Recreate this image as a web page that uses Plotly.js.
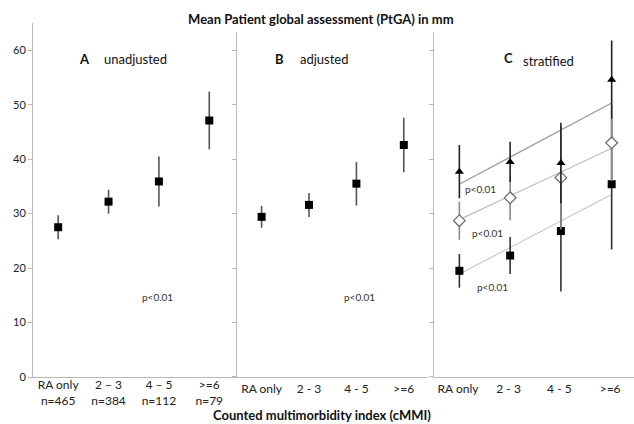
<!DOCTYPE html>
<html><head><meta charset="utf-8">
<script src="https://cdn.plot.ly/plotly-3.0.1.min.js"></script>
<style>html,body{margin:0;padding:0;background:#fff}#chart{width:634px;height:424px}</style>
</head><body><div id="chart"></div>
<script>
// ---- data ----
const catsA = ['RA only<br>n=465', '2 – 3<br>n=384', '4 – 5<br>n=112', '>=6<br>n=79'];
const catsB = ['RA only', '2 - 3', '4 - 5', '>=6'];
const catsC = ['RA only ', '2 - 3 ', '4 - 5 ', '>=6 '];
const yTicks = [0, 10, 20, 30, 40, 50, 60];

const unadjMean = [27.5, 32.2, 35.9, 47.1];
const unadjErr  = [2.2, 2.2, 4.6, 5.3];
const adjMean   = [29.4, 31.6, 35.5, 42.6];
const adjErr    = [2.0, 2.2, 4.0, 5.0];

const triMean = [37.7, 39.5, 39.3, 54.6];
const triErr  = [4.9, 3.7, 7.4, 7.2];
const diaMean = [28.7, 32.9, 36.6, 43.0];
const diaErr  = [3.5, 4.1, 9.5, 7.0];
const sqMean  = [19.5, 22.3, 26.8, 35.4];
const sqErr   = [3.1, 3.4, 11.1, 12.0];

const trendEnds = [catsC[0], catsC[3]];
const trendTri = [35.4, 50.3];
const trendDia = [28.9, 42.0];
const trendSq  = [18.9, 33.5];

const FONT = 'Lato, "Open Sans", sans-serif';

function pts(x, y, err, axX, axY, sym, size, fill, line, errColor) {
  return {
    type: 'scatter', mode: 'markers', x: x, y: y, xaxis: axX, yaxis: axY,
    marker: {symbol: sym, size: size, color: fill, line: {color: line, width: sym === 'diamond' ? 1.2 : 0}},
    error_y: {type: 'data', array: err, visible: true, width: 0, thickness: 1.6, color: errColor},
    showlegend: false, hoverinfo: 'skip', cliponaxis: false
  };
}
function trend(y, color) {
  return {type: 'scatter', mode: 'lines', x: trendEnds, y: y, xaxis: 'x3', yaxis: 'y3',
    line: {color: color, width: 1.2}, showlegend: false, hoverinfo: 'skip'};
}

const data = [
  pts(catsA, unadjMean, unadjErr, 'x', 'y', 'square', 8, '#000', '#000', '#555'),
  pts(catsB, adjMean, adjErr, 'x2', 'y2', 'square', 8, '#000', '#000', '#555'),
  trend(trendTri, '#9a9a9a'),
  trend(trendDia, '#bdbdbd'),
  trend(trendSq, '#c8c8c8'),
  pts(catsC, sqMean, sqErr, 'x3', 'y3', 'square', 8, '#000', '#000', '#333'),
  pts(catsC, diaMean, diaErr, 'x3', 'y3', 'diamond', 9, '#fff', '#666', '#8a8a8a'),
  pts(catsC, triMean, triErr, 'x3', 'y3', 'triangle-up', 8, '#000', '#000', '#222')
];

const axisCommon = {
  type: 'category', categoryorder: 'array', showgrid: false, zeroline: false, showline: true,
  linecolor: '#b8b8b8', linewidth: 1, ticks: '', fixedrange: true,
  tickfont: {family: FONT, size: 12, color: '#222'}
};
const yCommon = {
  range: [0, 65], showgrid: false, zeroline: false, showline: true,
  linecolor: '#b8b8b8', linewidth: 1, ticks: 'outside', ticklen: 4, tickcolor: '#b8b8b8',
  tickvals: yTicks, fixedrange: true,
  tickfont: {family: FONT, size: 11, color: '#222'}
};

function ann(text, x, y, xr, yr, opts) {
  return Object.assign({text: text, x: x, y: y, xref: xr, yref: yr, showarrow: false,
    font: {family: FONT, size: 13, color: '#111'}}, opts || {});
}

const layout = {
  width: 634, height: 424,
  margin: {l: 33, r: 0, t: 23, b: 47},
  paper_bgcolor: '#fff', plot_bgcolor: 'rgba(0,0,0,0)',
  font: {family: FONT},
  title: {text: '<b>Mean Patient global assessment (PtGA) in mm</b>',
    x: 0.506, xref: 'container', y: 0.953, yref: 'container', yanchor: 'middle', xanchor: 'center',
    font: {family: FONT, size: 13, color: '#111'}},
  xaxis: Object.assign({}, axisCommon, {categoryarray: catsA, domain: [0, 0.3394], range: [-0.5, 3.55], anchor: 'y', ticklabelstandoff: -3}),
  xaxis2: Object.assign({}, axisCommon, {categoryarray: catsB, domain: [0.3394, 0.6572], range: [-0.52, 3.51], anchor: 'y2', ticklabelstandoff: 1}),
  xaxis3: Object.assign({}, axisCommon, {categoryarray: catsC, domain: [0.6672, 1], range: [-0.5, 3.44], anchor: 'y3', ticklabelstandoff: 1}),
  yaxis: Object.assign({}, yCommon, {domain: [0, 1], anchor: 'x', range: [0, 65]}),
  yaxis2: Object.assign({}, yCommon, {domain: [0, 0.9754], anchor: 'x2', range: [0, 63.4], showticklabels: false}),
  yaxis3: Object.assign({}, yCommon, {domain: [0, 0.9754], anchor: 'x3', range: [0, 63.4], showticklabels: false}),
  annotations: [
    ann('<b>A</b>', 0.52, 58.3, 'x', 'y'),
    ann('unadjusted', 0.86, 58.3, 'x', 'y', {xanchor: 'left'}),
    ann('<b>B</b>', 0.37, 58.3, 'x2', 'y2'),
    ann('adjusted', 0.76, 58.3, 'x2', 'y2', {xanchor: 'left'}),
    ann('<b>C</b>', 0.96, 58.6, 'x3', 'y3'),
    ann('stratified', 1.21, 58.0, 'x3', 'y3', {xanchor: 'left'}),
    ann('p<0.01', 1.98, 14.7, 'x', 'y', {font: {family: FONT, size: 10, color: '#333'}}),
    ann('p<0.01', 2.07, 14.7, 'x2', 'y2', {font: {family: FONT, size: 10, color: '#333'}}),
    ann('p<0.01', 0.41, 34.6, 'x3', 'y3', {font: {family: FONT, size: 10, color: '#333'}}),
    ann('p<0.01', 0.55, 26.5, 'x3', 'y3', {font: {family: FONT, size: 10, color: '#333'}}),
    ann('p<0.01', 0.65, 16.6, 'x3', 'y3', {font: {family: FONT, size: 10, color: '#333'}}),
    ann('<b>Counted multimorbidity index (cMMI)</b>', 0.481, -0.108, 'paper', 'paper',
      {yanchor: 'middle', font: {family: FONT, size: 13, color: '#111'}})
  ]
};

Plotly.newPlot('chart', data, layout, {displayModeBar: false, staticPlot: true});
</script></body></html>
